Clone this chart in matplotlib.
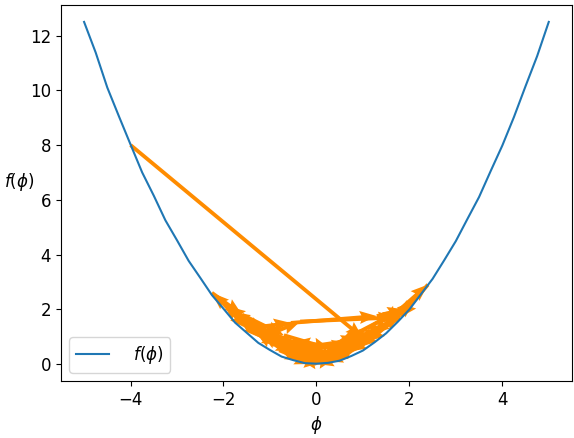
import matplotlib.pyplot as plt
import numpy as np

plt.rcParams['font.size'] = 12

# curve f(phi), sampled (slightly noisy)
phi = [-5.0, -4.75, -4.5, -4.25, -4.0, -3.75, -3.5, -3.25, -3.0, -2.75,
       -2.5, -2.25, -2.0, -1.75, -1.5, -1.25, -1.0, -0.75, -0.5, -0.25, 0.0,
       0.25, 0.5, 0.75, 1.0, 1.25, 1.5, 1.75, 2.0, 2.25, 2.5, 2.75, 3.0,
       3.25, 3.5, 3.75, 4.0, 4.25, 4.5, 4.75, 5.0]
f_phi = [12.5, 11.38, 10.1, 9.05, 8.02, 7.0, 6.15, 5.25, 4.52, 3.77,
         3.15, 2.52, 2.02, 1.51, 1.14, 0.77, 0.51, 0.27, 0.14, 0.03, 0.01,
         0.04, 0.12, 0.29, 0.49, 0.79, 1.12, 1.54, 1.99, 2.55, 3.11, 3.79, 4.49,
         5.3, 6.1, 7.05, 7.98, 9.02, 10.15, 11.25, 12.5]

# optimisation path (phi_t, noisy f(phi_t))
path_x = [-4.0, 1.0,
          0.3, -0.5, -1.2, -1.8, -2.25,
          -1.6, -0.7, 0.3, 1.1, 1.8, 2.4,
          1.8, 0.9, -0.1, -0.9, -1.6, -2.0,
          -1.5, -0.55, 1.3, 1.9,
          1.2, 0.3, -0.6, -1.4, -1.9,
          -1.2, -0.35, 1.7, 2.1,
          1.4, 0.5, -0.5, -1.2, -1.7,
          -1.1, -0.2, 0.7, 1.4, 1.8,
          1.1, 0.2, -0.7, -1.4,
          -0.8, 0.1, 0.9, 1.5,
          0.9, 0.0, -0.8, -1.3,
          -0.7, 0.2, 0.9, 1.3,
          0.7, -0.2, -0.9, -1.1,
          -0.5, 0.3, 0.9,
          0.3, -0.4, -0.8,
          -0.3, 0.4, 0.7,
          0.2, -0.4, -0.6,
          -0.1, 0.4, 0.5,
          0.0, -0.3, 0.1, 0.0]
path_y = [8.0, 0.95,
          0.65, 0.8, 1.3, 1.9, 2.6,
          1.8, 1.05, 0.55, 1.3, 2.0, 2.9,
          1.7, 0.7, 0.2, 0.9, 1.6, 2.2,
          1.3, 1.5, 1.75, 2.0,
          1.1, 0.35, 0.8, 1.5, 2.1,
          0.95, 1.55, 1.7, 2.3,
          1.6, 0.8, 0.55, 1.1, 1.75,
          1.2, 0.5, 0.75, 1.3, 1.8,
          0.8, 0.4, 0.85, 1.2,
          0.7, 0.6, 1.0, 1.4,
          0.6, 0.3, 0.6, 1.15,
          0.75, 0.4, 0.8, 1.05,
          0.45, 0.2, 0.7, 0.9,
          0.45, 0.25, 0.6,
          0.15, 0.4, 0.5,
          0.15, 0.4, 0.35,
          0.1, 0.3, 0.3,
          0.0, 0.2, 0.2,
          0.0, 0.1, 0.05, 0.0]

fig = plt.figure(figsize=(5.74, 4.38), dpi=100)
ax = fig.add_subplot(111)
fig.subplots_adjust(left=0.106, right=0.9965, top=0.989, bottom=0.13)

ax.plot(phi, f_phi, label=r'  $f(\phi)$')
px = np.array(path_x)
py = np.array(path_y)
ax.quiver(px[:-1], py[:-1], px[1:] - px[:-1], py[1:] - py[:-1],
          angles='xy', scale_units='xy', scale=1, color='darkorange',
          width=0.0075, headwidth=3.4, headlength=4.5, headaxislength=4)

ax.set_xlim(-5.5, 5.5)
ax.set_ylim(-0.625, 13.125)
ax.set_xlabel(r'$\phi$')
ax.set_ylabel(r'$f(\phi)$', rotation=0, labelpad=8)
ax.legend(loc='lower left')

plt.savefig('out.png')
